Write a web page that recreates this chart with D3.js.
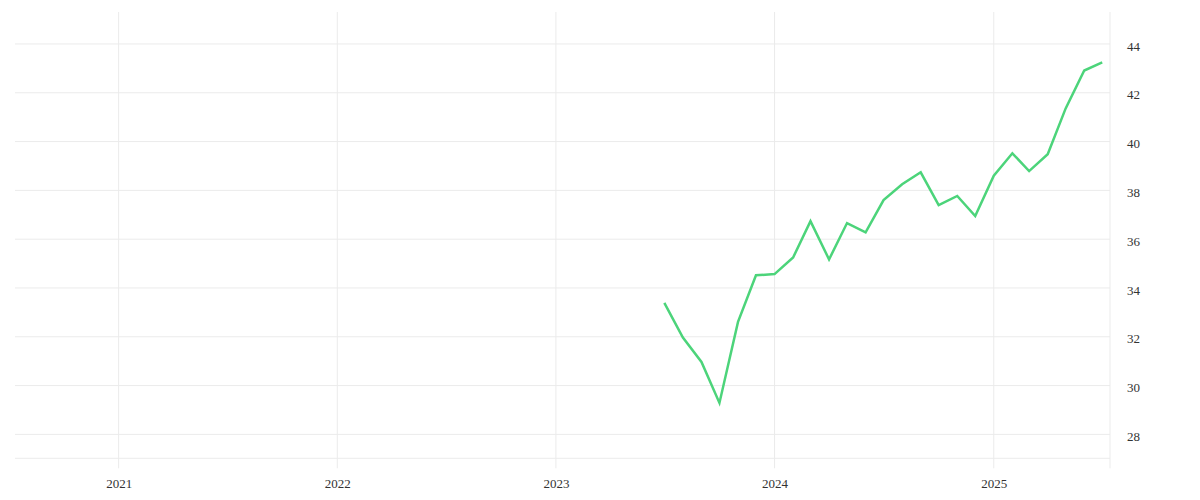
<!DOCTYPE html>
<html>
<head>
<meta charset="utf-8">
<script src="https://cdn.jsdelivr.net/npm/d3@7"></script>
<style>
  html, body { margin: 0; padding: 0; background: #fff; }
  svg { display: block; }
  .tick text { font-family: "Liberation Serif", "DejaVu Serif", serif; font-size: 13px; fill: #333; }
</style>
</head>
<body>
<svg id="chart" width="1200" height="500"></svg>
<script>
const months = ["2023-07","2023-08","2023-09","2023-10","2023-11","2023-12",
  "2024-01","2024-02","2024-03","2024-04","2024-05","2024-06","2024-07","2024-08","2024-09","2024-10","2024-11","2024-12",
  "2025-01","2025-02","2025-03","2025-04","2025-05","2025-06","2025-07"];
const values = [33.39, 31.97, 30.97, 29.29, 32.61, 34.52,
  34.57, 35.25, 36.74, 35.17, 36.66, 36.28, 37.60, 38.25, 38.74, 37.40, 37.77, 36.95,
  38.60, 39.52, 38.79, 39.48, 41.36, 42.91, 43.25];
const yTicks = [28, 30, 32, 34, 36, 38, 40, 42, 44];
const xTickYears = ["2021", "2022", "2023", "2024", "2025"];

const parse = d3.utcParse("%Y-%m");
const data = months.map((m, i) => ({ date: parse(m), value: values[i] }));

const mLeft = 15, mRight = 1110, mTop = 12, mBottom = 458.3;
const svg = d3.select("#chart");

const x = d3.scaleUtc()
  .domain([new Date(Date.UTC(2020, 6, 12)), new Date(Date.UTC(2025, 6, 14))])
  .range([mLeft, mRight]);
const y = d3.scaleLinear().domain([27.02, 45.31]).range([mBottom, mTop]);

const gridColor = "#ebebeb";

// horizontal gridlines
svg.append("g").selectAll("line").data(yTicks).join("line")
  .attr("x1", mLeft).attr("x2", mRight)
  .attr("y1", d => y(d)).attr("y2", d => y(d))
  .attr("stroke", gridColor).attr("stroke-width", 1);

// bottom border
svg.append("line").attr("x1", mLeft).attr("x2", mRight)
  .attr("y1", mBottom).attr("y2", mBottom)
  .attr("stroke", gridColor).attr("stroke-width", 1);

// vertical gridlines
const xTickDates = xTickYears.map(s => d3.utcParse("%Y")(s));
svg.append("g").selectAll("line").data(xTickDates).join("line")
  .attr("x1", d => x(d)).attr("x2", d => x(d))
  .attr("y1", mTop).attr("y2", mBottom + 10)
  .attr("stroke", gridColor).attr("stroke-width", 1);

// right border
svg.append("line").attr("x1", mRight).attr("x2", mRight)
  .attr("y1", mTop).attr("y2", mBottom + 10)
  .attr("stroke", gridColor).attr("stroke-width", 1);

// x axis labels
const xAxis = d3.axisBottom(x).tickValues(xTickDates).tickFormat(d3.utcFormat("%Y")).tickSize(0).tickPadding(0);
const gx = svg.append("g").attr("transform", `translate(0,${mBottom + 20})`).call(xAxis);
gx.select(".domain").remove();
gx.selectAll("text").attr("dy", "0.71em");

// y axis labels
const yAxis = d3.axisRight(y).tickValues(yTicks).tickSize(0).tickPadding(0);
const gy = svg.append("g").attr("transform", `translate(${mRight + 17},2)`).call(yAxis);
gy.select(".domain").remove();
gy.selectAll("text").attr("dy", "0.32em");

// line
const line = d3.line().x(d => x(d.date)).y(d => y(d.value));
svg.append("path").datum(data)
  .attr("fill", "none")
  .attr("stroke", "#4cd47a")
  .attr("stroke-width", 2.5)
  .attr("stroke-linejoin", "miter")
  .attr("d", line);
</script>
</body>
</html>
